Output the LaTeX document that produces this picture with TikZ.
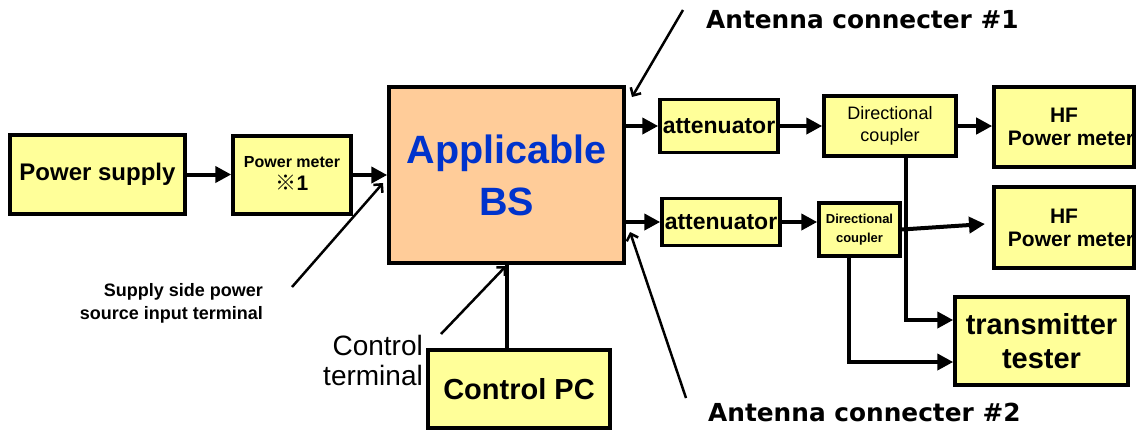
\documentclass[tikz,border=0pt]{standalone}
\usepackage{fontspec}
\setmainfont{Liberation Sans}
\newfontfamily\dv{DejaVu Sans}
\newfontfamily\cjk{Noto Sans CJK JP}
\usetikzlibrary{arrows.meta}
\definecolor{boxy}{HTML}{FFFF99}
\definecolor{bsfill}{HTML}{FFCC99}
\definecolor{bsblue}{HTML}{0033CC}
\newcommand{\fs}[2]{\fontsize{#1}{#2}\selectfont}
\begin{document}
\begin{tikzpicture}[x=1pt,y=-1pt,
  box/.style={draw, line width=3.5pt, fill=boxy, inner sep=0pt, align=center},
  arr/.style={line width=4pt, -{Triangle[length=16pt,width=16pt]}},
  note/.style={line width=2.5pt, -{Straight Barb[length=6pt,width=12pt]}},
  lbl/.style={inner sep=0pt}]
\useasboundingbox (0,0) rectangle (1137,432);
% boxes
\node[box, minimum width=175pt, minimum height=79pt, font=\bfseries\fs{24}{28}] (ps) at (97.5,174.5) {Power supply};
\node[box, minimum width=118pt, minimum height=78pt, font=\bfseries\fs{16}{20}] (pm) at (292,175) {\begin{tabular}{@{}c@{}}Power meter\\[1pt]{\fs{21}{24}\cjk ※}{\fs{21}{24}1}\end{tabular}};
\node[box, fill=bsfill, minimum width=235pt, minimum height=176pt, font=\bfseries\fs{39.5}{52}, text=bsblue] (bs) at (506.5,175) {\rule{0pt}{14pt}Applicable\\BS};
\node[box, minimum width=118pt, minimum height=53pt, font=\bfseries\fs{23}{26}] (att1) at (719,126) {attenuator};
\node[box, minimum width=132pt, minimum height=60pt, font=\fs{18}{22}] (dc1) at (890,126) {Directional\\coupler};
\node[box, minimum width=140pt, minimum height=80pt, font=\bfseries\fs{21}{23}] (hf1) at (1064,127) {HF\\\hspace*{14pt}Power meter};
\node[box, minimum width=118pt, minimum height=47pt, font=\bfseries\fs{23}{26}] (att2) at (721,222) {attenuator};
\node[box, minimum width=81pt, minimum height=53pt, font=\bfseries\fs{13}{19}] (dc2) at (859.5,229.5) {Directional\\coupler};
\node[box, minimum width=140pt, minimum height=81pt, font=\bfseries\fs{21}{23}] (hf2) at (1064,227.5) {HF\\\hspace*{14pt}Power meter};
\node[box, minimum width=173pt, minimum height=88pt, font=\bfseries\fs{29}{34}] (tt) at (1041.5,341) {transmitter\\tester};
\node[box, minimum width=182pt, minimum height=78pt, font=\bfseries\fs{29}{34}] (pc) at (519,389) {Control PC};
% labels
\node[lbl, anchor=east, align=right, font=\bfseries\fs{18}{23}] (lsup) at (263,303) {Supply side power\\source input terminal};
\node[lbl, anchor=east, align=right, font=\fs{28}{30}] (lctl) at (423,360) {Control\\terminal};
\node[lbl, anchor=west, font=\dv\bfseries\fs{24.8}{28}] (lant1) at (706,20) {Antenna connecter \#1};
\node[lbl, anchor=west, font=\dv\bfseries\fs{24.8}{28}] (lant2) at (708,412) {Antenna connecter \#2};
% signal connectors
\draw[arr] (ps.east) -- (ps.east -| pm.west);
\draw[arr] (pm.east) -- (pm.east -| bs.west);
\draw[arr] (bs.east |- att1.west) -- (att1.west);
\draw[arr] (att1.east) -- (dc1.west);
\draw[arr] (dc1.east) -- (dc1.east -| hf1.west);
\draw[arr] (bs.east |- att2.west) -- (att2.west);
\draw[arr] (att2.east) -- (att2.east -| dc2.west);
\coordinate (hf2in) at (985,224);
\draw[arr] (dc2.east) -- (hf2in);
\draw[arr] ([xshift=16pt]dc1.south) |- ([yshift=21pt]tt.west);
\coordinate (dc2out) at (849,258);
\draw[arr] (dc2out) |- ([yshift=-21pt]tt.west);
\draw[line width=4pt] (bs.south) -- (bs.south |- pc.north);
% annotation pointers
\coordinate (a1) at (683,10); \coordinate (a1t) at (632,97);
\draw[note] (a1) -- (a1t);
\coordinate (a2) at (686,398); \coordinate (a2t) at (630,232);
\draw[note] (a2) -- (a2t);
\coordinate (s0) at (292,287); \coordinate (s0t) at (383,183);
\draw[note] (s0) -- (s0t);
\coordinate (c0) at (441,334); \coordinate (c0t) at (506,266);
\draw[note] (c0) -- (c0t);
\end{tikzpicture}
\end{document}
